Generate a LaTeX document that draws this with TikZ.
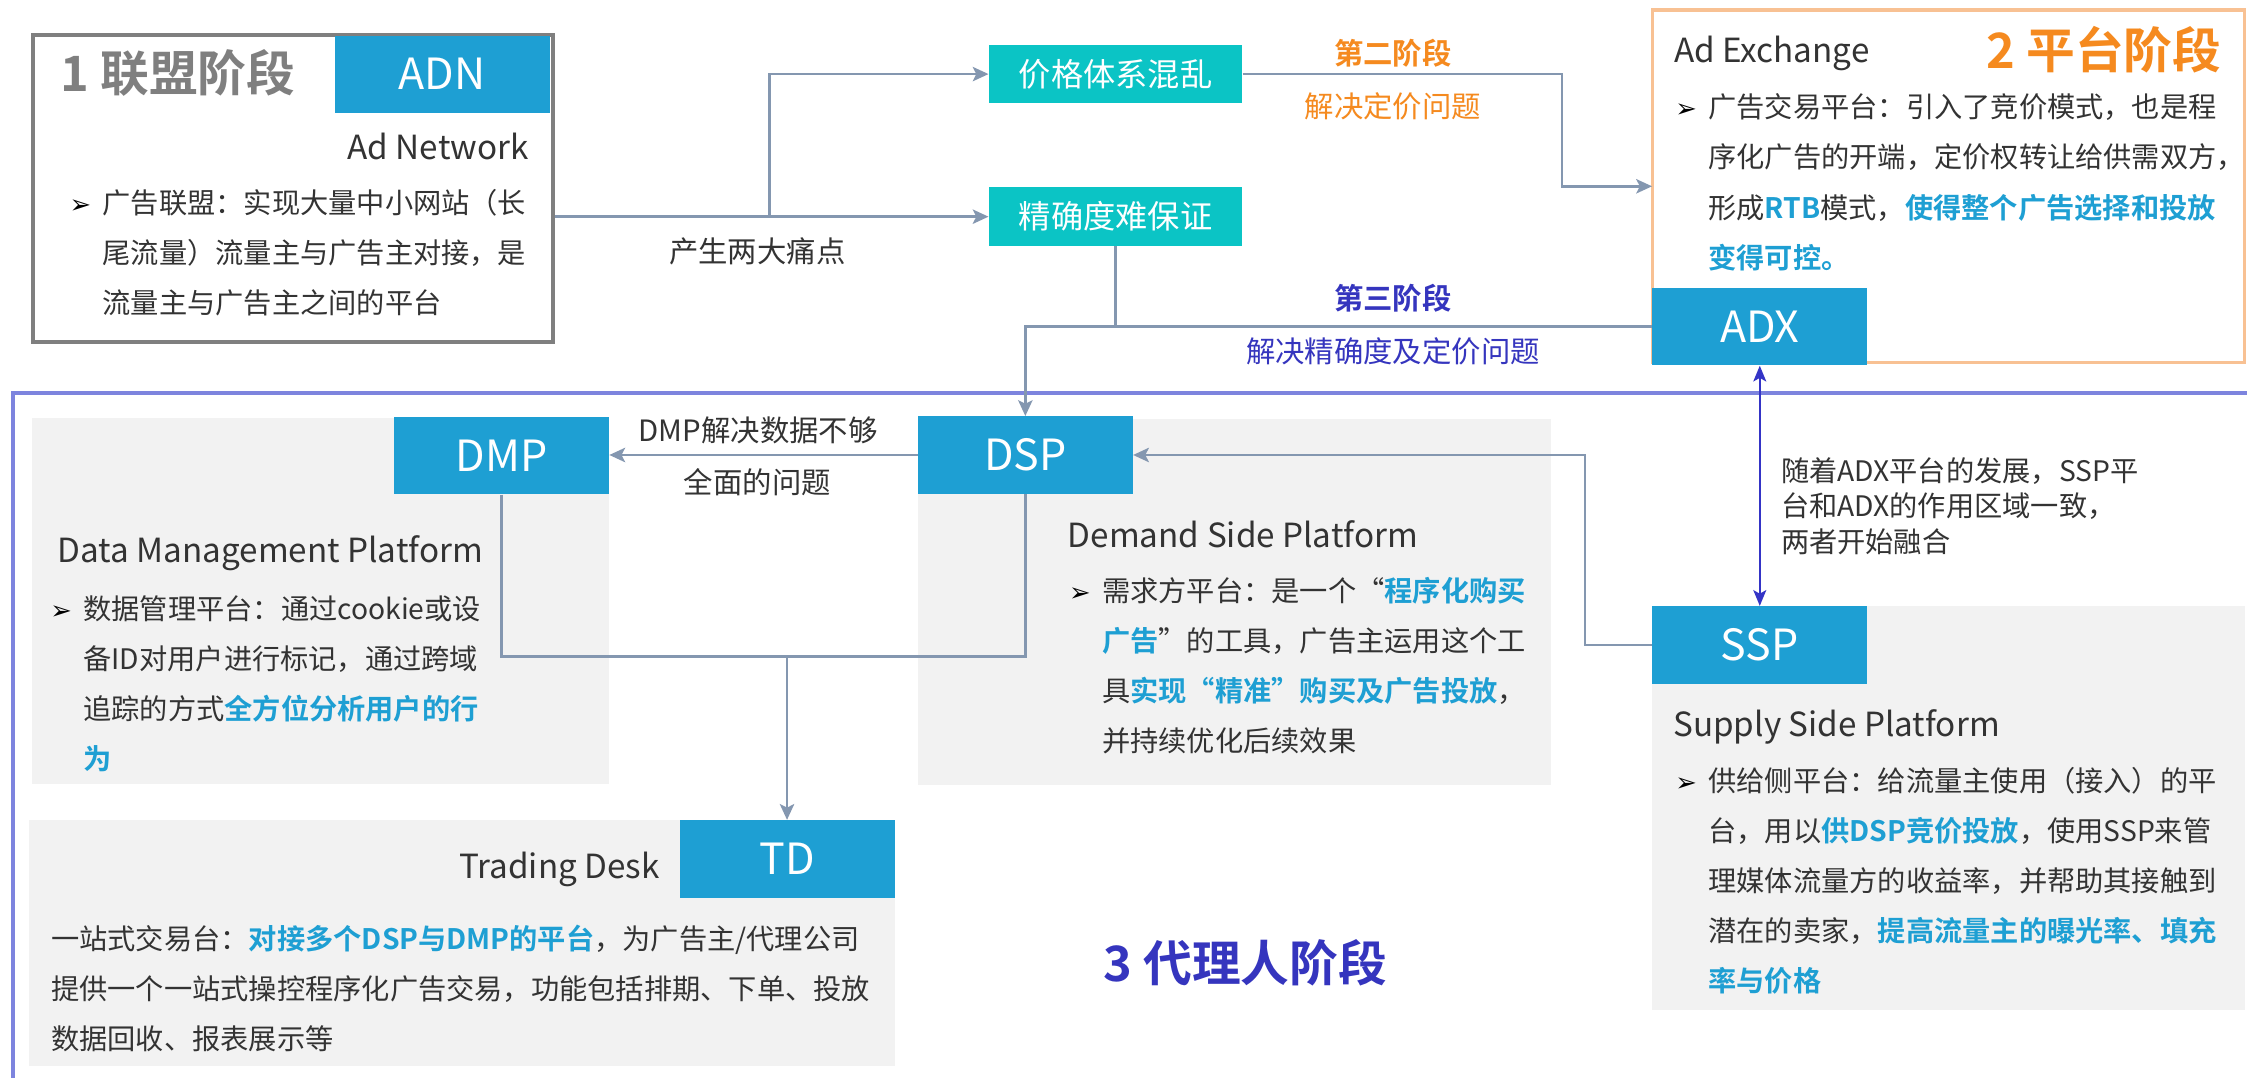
\documentclass[tikz,border=0pt]{standalone}
\usepackage{fontspec}
\setmainfont{Noto Sans CJK SC}[BoldFont={Noto Sans CJK SC Bold}]
\newfontfamily\symfont{DejaVu Sans}
\usetikzlibrary{arrows.meta,positioning}

\definecolor{tagblue}{HTML}{1E9FD3}
\definecolor{painteal}{HTML}{0BC4C5}
\definecolor{panelgray}{HTML}{F2F2F2}
\definecolor{linkgray}{HTML}{8497B0}
\definecolor{stageorange}{HTML}{F58A1F}
\definecolor{frameorange}{HTML}{F8C193}
\definecolor{stagepurple}{HTML}{3535BE}
\definecolor{framepurple}{HTML}{7D84DE}
\definecolor{dualblue}{HTML}{3434C6}
\definecolor{adngray}{HTML}{7F7F7F}
\definecolor{bodytext}{HTML}{333333}

\newcommand\bodyfont{\fontsize{19.7}{35}\selectfont}
\newcommand\tagfont{\fontsize{30}{36}\selectfont}
\newcommand\stagefont{\fontsize{34}{40}\selectfont\bfseries}
\newcommand\namefont{\fontsize{23.2}{27}\selectfont}
\newcommand\notefont{\fontsize{20.5}{25}\selectfont}
\newcommand\hl[1]{\textcolor{tagblue}{\bfseries #1}}
\newcommand\bul{\llap{{\symfont\fontsize{18}{18}\selectfont\color{black}➢}\hspace{8pt}}}

\begin{document}
\begin{tikzpicture}[x=1pt, y=-1pt, >={Stealth[length=11pt,width=10pt,inset=2.5pt]},
  tag/.style={fill=tagblue, text=white, font=\tagfont, minimum width=150pt, minimum height=54pt, inner sep=0pt},
  pain/.style={fill=painteal, text=white, font=\fontsize{22.5}{27}\selectfont, minimum width=177pt, minimum height=41pt, inner sep=0pt},
  para/.style={anchor=north west, align=left, inner sep=0pt, font=\bodyfont, text=bodytext},
  subtitle/.style={font=\namefont, text=bodytext, inner sep=0pt},
  note/.style={font=\notefont, inner sep=0pt},
  stage/.style={font=\stagefont, inner sep=0pt, anchor=west},
  link/.style={draw=linkgray, line width=1.8pt},
  dual/.style={draw=dualblue, line width=1.5pt, {Stealth[length=11pt,width=9pt,inset=2.5pt]}-{Stealth[length=11pt,width=9pt,inset=2.5pt]}}]
\useasboundingbox (0,0) rectangle (1568,752);
\fill[white] (0,0) rectangle (1568,752);
% grey panels
\fill[panelgray] (22.3,291.5) rectangle (425,547);
\fill[panelgray] (640.8,292.4) rectangle (1082.6,547.8);
\fill[panelgray] (1152.6,423) rectangle (1566.6,704.8);
\fill[panelgray] (20,572.2) rectangle (624.4,743.7);
% stage frames
\draw[framepurple, line width=3pt] (1568,274) -- (9,274) -- (9,752);
\draw[frameorange, line width=2.3pt] (1153,7) rectangle (1566,253);
\node[draw=adngray, line width=2.8pt, minimum width=363pt, minimum height=214pt, anchor=north west, inner sep=0pt] (adnframe) at (21.4,23.3) {};

\node[tag]  (adn) at (308.5,51.8) {ADN};
\node[tag]  (adx) at (1228,228) {ADX};
\node[tag]  (dmp) at (350,318) {DMP};
\node[tag]  (dsp) at (715.5,317.5) {DSP};
\node[tag]  (ssp) at (1228,450) {SSP};
\node[tag]  (td) at (549.2,599.3) {TD};
\node[pain] (price) at (778.5,51.7) {价格体系混乱};
\node[pain] (quality) at (778.5,151.2) {精确度难保证};

\coordinate (split) at (537,151.2);
\coordinate (turn2) at (1090,130);
\coordinate (turn4) at (1106,450);
\coordinate (merge) at (549.2,458);

\draw[link,->] (adnframe.east |- quality) -- (quality.west);
\draw[link,->] (split) |- (price.west);
\draw[link,->] (price.east) -| (turn2) -- (turn2 -| adx.west);
\draw[link] (quality.south) -- (quality.south |- adx.west);
\draw[link,->] (adx.west) -| (dsp.north);
\draw[link,->] (dsp.west) -- (dsp.west -| dmp.east);
\draw[link,->] (ssp.west) -- (turn4) |- (dsp.east);
\draw[link] (dmp.south) |- (merge) -| (dsp.south);
\draw[link,->] (merge) -- (td.north);
\draw[dual] (adx.south) -- (ssp.north);

% stage titles
\node[stage, text=adngray] (stage1) at (42,51) {1 联盟阶段};
\node[stage, text=stageorange] (stage2) at (1386,35) {2 平台阶段};
\node[stage, text=stagepurple] (stage3) at (770,672) {3 代理人阶段};

\node[subtitle, anchor=east] (adnname) at (369,102.4) {Ad Network};
\node[subtitle, anchor=west] (adxname) at (1168,37) {Ad Exchange};
\node[subtitle, anchor=west] (dmpname) at (40,386) {Data Management Platform};
\node[subtitle, anchor=west] (dspname) at (745,372.6) {Demand Side Platform};
\node[subtitle, anchor=west] (sspname) at (1167.5,507) {Supply Side Platform};
\node[subtitle, anchor=east] (tdname) at (460.6,607) {Trading Desk};

\node[note, text=bodytext] (painnote) at (528.5,175.6) {产生两大痛点};
\node[note, text=stageorange, font=\notefont\bfseries] (phase2) at (972,37) {第二阶段};
\node[note, text=stageorange] (phase2note) at (972,74.4) {解决定价问题};
\node[note, text=stagepurple, font=\notefont\bfseries] (phase3) at (972,208) {第三阶段};
\node[note, text=stagepurple] (phase3note) at (972,245.4) {解决精确度及定价问题};
\node[note, text=bodytext] (dmpnote) at (529,300) {DMP解决数据不够};
\node[note, text=bodytext] (dmpnote2) at (528.5,336.8) {全面的问题};

\node[para] (adntext) at (71.5,124) {\bul\strut 广告联盟：实现大量中小网站（长\\尾流量）流量主与广告主对接，是\\流量主与广告主之间的平台};
\node[para] (adxtext) at (1192,57.5) {\bul\strut 广告交易平台：引入了竞价模式，也是程\\序化广告的开端，定价权转让给供需双方，\\形成\hl{RTB}模式，\hl{使得整个广告选择和投放}\\\hl{变得可控。}};
\node[para] (dmptext) at (58,407.5) {\bul\strut 数据管理平台：通过cookie或设\\备ID对用户进行标记，通过跨域\\追踪的方式\hl{全方位分析用户的行}\\\hl{为}};
\node[para] (dsptext) at (769,394.7) {\bul\strut 需求方平台：是一个“\hl{程序化购买}\\\hl{广告}”的工具，广告主运用这个工\\具\hl{实现“精准”购买及广告投放}，\\并持续优化后续效果};
\node[para] (ssptext) at (1192,527.5) {\bul\strut 供给侧平台：给流量主使用（接入）的平\\台，用以\hl{供DSP竞价投放}，使用SSP来管\\理媒体流量方的收益率，并帮助其接触到\\潜在的卖家，\hl{提高流量主的曝光率、填充}\\\hl{率与价格}};
\node[para] (tdtext) at (35.6,638) {\strut 一站式交易台：\hl{对接多个DSP与DMP的平台}，为广告主/代理公司\\提供一个一站式操控程序化广告交易，功能包括排期、下单、投放\\数据回收、报表展示等};
\node[para, font=\fontsize{19.7}{25}\selectfont] (mergenote) at (1242.6,318) {\strut 随着ADX平台的发展，SSP平\\台和ADX的作用区域一致，\\两者开始融合};
\end{tikzpicture}
\end{document}
